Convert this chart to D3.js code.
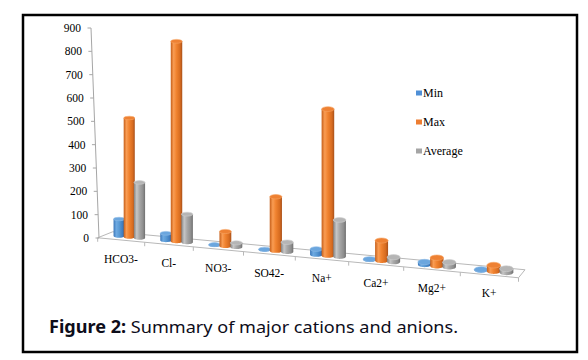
<!DOCTYPE html>
<html>
<head>
<meta charset="utf-8">
<script src="https://cdn.jsdelivr.net/npm/d3@7"></script>
<style>
  html, body { margin: 0; padding: 0; background: #fff; }
  svg { display: block; }
</style>
</head>
<body>
<script>
// ---- data ----
const categories = ["HCO3-", "Cl-", "NO3-", "SO42-", "Na+", "Ca2+", "Mg2+", "K+"];
const seriesNames = ["Min", "Max", "Average"];
const minVals = [72, 29, 1, 1, 20, 1, 9, 1];
const maxVals = [501, 815, 57, 206, 543, 72, 28, 20];
const avgVals = [232, 114, 16, 36, 135, 16, 16, 12];
const yTicks = [0, 100, 200, 300, 400, 500, 600, 700, 800, 900];
const captionBold = "Figure 2:";
const captionText = " Summary of major cations and anions.";

const W = 588, H = 360;
const svg = d3.select("body").append("svg").attr("width", W).attr("height", H);

// ---- scales ----
const tScale = d3.scalePoint().domain(categories).range([0, 7]);
const vScale = d3.scaleLinear().domain([0, 900]).range([0, 210]);
const seriesOffset = d3.scalePoint().domain(seriesNames).range([-0.22, 0.22]);

// pseudo-perspective projection of the floor
const frontX = t => 121 + 47 * t + 0.8 * t * t;
const frontY = x => 238 + (x - 100) * 0.095;
function depthVec(t) { const u = (t + 0.5) / 8; return [15 + (6.5 - 15) * u, -6 + (-8 + 6) * u]; }
function floorPt(t, d) {
  const x = frontX(t), y = frontY(x), v = depthVec(t);
  return [x + v[0] * d, y + v[1] * d];
}
const persp = t => (47 + 1.6 * t) / 46.2;

// ---- gradients ----
const defs = svg.append("defs");
const palettes = {
  Min: { body: ["#3a76b8", "#6eaae2", "#5b9bd5", "#3f7dc0", "#2c609c"], cap: "#6ba6de", rim: "#8dbbe6", legend: "#4f8fd6" },
  Max: { body: ["#c65f1a", "#f99c53", "#f0822f", "#d66b20", "#a8501a"], cap: "#ee8133", rim: "#f7a463", legend: "#ed7d31" },
  Average: { body: ["#838383", "#c6c6c6", "#a8a8a8", "#8e8e8e", "#6f6f6f"], cap: "#b5b5b5", rim: "#cfcfcf", legend: "#a5a5a5" }
};
seriesNames.forEach(s => {
  const g = defs.append("linearGradient").attr("id", "g" + s).attr("x1", 0).attr("x2", 1).attr("y1", 0).attr("y2", 0);
  const offs = [0, 0.25, 0.5, 0.82, 1];
  palettes[s].body.forEach((c, i) => g.append("stop").attr("offset", offs[i]).attr("stop-color", c));
});

// ---- box ----
svg.append("rect").attr("x", 23).attr("y", 15).attr("width", 554).attr("height", 337)
  .attr("fill", "none").attr("stroke", "#000").attr("stroke-width", 2.5);

// ---- floor ----
const fl = [floorPt(-0.5, 0), floorPt(7.5, 0), floorPt(7.5, 1), floorPt(-0.5, 1)];
svg.append("polygon").attr("points", fl.map(p => p.join(",")).join(" "))
  .attr("fill", "#fff").attr("stroke", "#b8b8b8").attr("stroke-width", 1);
// category ticks on the front edge
d3.range(-0.5, 8, 1).forEach(t => {
  const [x, y] = floorPt(t, 0);
  svg.append("line").attr("x1", x).attr("y1", y).attr("x2", x).attr("y2", y + 4)
    .attr("stroke", "#b8b8b8").attr("stroke-width", 1);
});

// ---- value axis ----
const axX = v => 99 - vScale(v) * 8 / 210;
const axY = v => 238 - vScale(v);
svg.append("line").attr("x1", axX(0)).attr("y1", axY(0)).attr("x2", axX(900)).attr("y2", axY(900))
  .attr("stroke", "#a6a6a6").attr("stroke-width", 1);
yTicks.forEach(v => {
  svg.append("line").attr("x1", axX(v) - 3.5).attr("x2", axX(v)).attr("y1", axY(v)).attr("y2", axY(v))
    .attr("stroke", "#a6a6a6").attr("stroke-width", 1);
  svg.append("text").attr("x", axX(v) - 10).attr("y", axY(v)).attr("dy", "0.35em")
    .attr("text-anchor", "end").attr("font-family", "Liberation Serif").attr("font-size", 11.5)
    .attr("fill", "#000").text(v);
});

// ---- category labels ----
categories.forEach(c => {
  const t = tScale(c);
  const x = frontX(t), y = frontY(x) + 18.5;
  svg.append("text").attr("x", x).attr("y", y).attr("dy", "0.35em").attr("text-anchor", "middle")
    .attr("font-family", "Liberation Serif").attr("font-size", 11.5).attr("fill", "#000").text(c);
});

// ---- cylinders ----
const seriesVals = { Min: minVals, Max: maxVals, Average: avgVals };
const barsG = svg.append("g");
categories.forEach((c, i) => {
  seriesNames.forEach(s => {
    const v = seriesVals[s][i];
    const t = tScale(c) + seriesOffset(s);
    const [cx0, by] = floorPt(t, 0.5);
    const cx = cx0 + 1;
    const rx = 0.118 * (47 + 1.6 * t);
    const ry = rx * (0.32 + 0.014 * t);
    const h = vScale(v) * persp(t);
    const top = by - h;
    const p = d3.path();
    p.moveTo(cx - rx, top);
    p.lineTo(cx - rx, by);
    p.bezierCurveTo(cx - rx, by + ry * 1.33, cx + rx, by + ry * 1.33, cx + rx, by);
    p.lineTo(cx + rx, top);
    p.closePath();
    barsG.append("path").attr("d", p.toString()).attr("fill", "url(#g" + s + ")");
    barsG.append("ellipse").attr("cx", cx).attr("cy", top).attr("rx", rx).attr("ry", ry)
      .attr("fill", palettes[s].cap).attr("stroke", palettes[s].rim).attr("stroke-width", 0.6);
  });
});

// ---- legend ----
const legY = [93, 122, 151];
seriesNames.forEach((s, i) => {
  svg.append("rect").attr("x", 416).attr("y", legY[i] - 2.5).attr("width", 6).attr("height", 5)
    .attr("fill", palettes[s].legend);
  svg.append("text").attr("x", 423).attr("y", legY[i]).attr("dy", "0.35em")
    .attr("font-family", "Liberation Serif").attr("font-size", 12).attr("fill", "#000").text(s);
});

// ---- caption ----
const cap = svg.append("text").attr("x", 49).attr("y", 333)
  .attr("font-family", "Noto Sans").attr("font-size", 17).attr("fill", "#0d0d1a")
  .attr("textLength", 409).attr("lengthAdjust", "spacingAndGlyphs");
cap.append("tspan").attr("font-weight", "bold").text(captionBold);
cap.append("tspan").text(captionText);
</script>
</body>
</html>
